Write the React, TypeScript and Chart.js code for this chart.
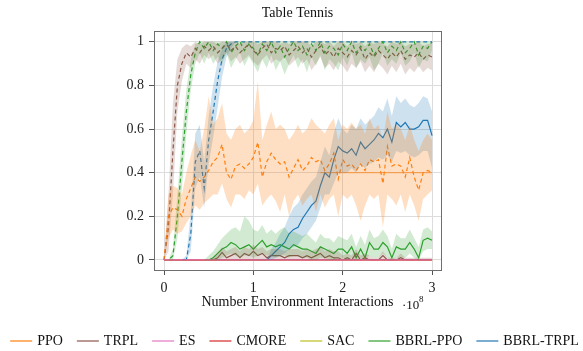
import React, { useEffect, useRef } from "react";
import { Chart, registerables } from "chart.js";

Chart.register(...registerables);

// x positions (units of 1e8 environment interactions)
const STEPS = [
  0, 0.05, 0.1, 0.15, 0.2, 0.25, 0.3, 0.35, 0.4, 0.45,
  0.5, 0.55, 0.6, 0.65, 0.7, 0.75, 0.8, 0.85, 0.9, 0.95,
  1, 1.05, 1.1, 1.15, 1.2, 1.25, 1.3, 1.35, 1.4, 1.45,
  1.5, 1.55, 1.6, 1.65, 1.7, 1.75, 1.8, 1.85, 1.9, 1.95,
  2, 2.05, 2.1, 2.15, 2.2, 2.25, 2.3, 2.35, 2.4, 2.45,
  2.5, 2.55, 2.6, 2.65, 2.7, 2.75, 2.8, 2.85, 2.9, 2.95,
  3,
];

const ZEROS = [
  0, 0, 0, 0, 0, 0, 0, 0, 0, 0,
  0, 0, 0, 0, 0, 0, 0, 0, 0, 0,
  0, 0, 0, 0, 0, 0, 0, 0, 0, 0,
  0, 0, 0, 0, 0, 0, 0, 0, 0, 0,
  0, 0, 0, 0, 0, 0, 0, 0, 0, 0,
  0, 0, 0, 0, 0, 0, 0, 0, 0, 0,
  0,
];

// PPO (dashed)
const PPO_DASH = [
  0, 0.2, 0.24, 0.23, 0.2, 0.28, 0.33, 0.38, 0.36, 0.38,
  0.41, 0.45, 0.47, 0.53, 0.4, 0.37, 0.43, 0.44, 0.42, 0.44,
  0.47, 0.54, 0.38, 0.45, 0.49, 0.46, 0.44, 0.45, 0.38, 0.42,
  0.46, 0.41, 0.43, 0.47, 0.45, 0.46, 0.41, 0.44, 0.49, 0.37,
  0.46, 0.43, 0.44, 0.41, 0.44, 0.41, 0.46, 0.45, 0.46, 0.35,
  0.52, 0.43, 0.44, 0.43, 0.38, 0.47, 0.38, 0.32, 0.4, 0.41,
  0.4,
];
const PPO_DASH_LO = [
  0, 0.1, 0.14, 0.12, 0.13, 0.17, 0.2, 0.25, 0.23, 0.26,
  0.28, 0.3, 0.3, 0.35, 0.28, 0.24, 0.3, 0.3, 0.28, 0.32,
  0.3, 0.35, 0.25, 0.28, 0.3, 0.27, 0.22, 0.3, 0.2, 0.27,
  0.3, 0.25, 0.28, 0.3, 0.22, 0.3, 0.24, 0.28, 0.3, 0.2,
  0.3, 0.28, 0.3, 0.25, 0.18, 0.25, 0.3, 0.28, 0.3, 0.15,
  0.3, 0.28, 0.25, 0.3, 0.22, 0.3, 0.25, 0.18, 0.28, 0.3,
  0.32,
];
const PPO_DASH_HI = [
  0, 0.3, 0.34, 0.33, 0.3, 0.4, 0.48, 0.55, 0.5, 0.6,
  0.75, 0.62, 0.65, 0.72, 0.58, 0.55, 0.6, 0.62, 0.58, 0.6,
  0.64, 0.82, 0.55, 0.62, 0.68, 0.6, 0.62, 0.6, 0.55, 0.58,
  0.62, 0.58, 0.6, 0.65, 0.62, 0.6, 0.58, 0.62, 0.65, 0.55,
  0.62, 0.6, 0.63, 0.6, 0.62, 0.58, 0.65, 0.6, 0.62, 0.55,
  0.68, 0.6, 0.62, 0.6, 0.55, 0.62, 0.55, 0.5, 0.55, 0.58,
  0.55,
];
// PPO (solid) plateau segment
const PPO_PLATEAU = [
  null, null, null, null, null, null, null, null, null, null,
  null, null, null, null, null, null, null, null, null, null,
  null, null, null, null, null, null, null, null, null, null,
  null, null, null, null, null, 0.4, 0.4, 0.4, 0.4, 0.4,
  0.4, 0.4, 0.4, 0.4, 0.4, 0.4, 0.4, 0.4, 0.4, 0.4,
  0.4, 0.4, 0.4, 0.4, 0.4, 0.4, 0.4, 0.4, 0.4, 0.4,
  0.4,
];

// TRPL (dashed)
const TRPL_DASH = [
  0, 0.15, 0.5, 0.8, 0.9, 0.95, 0.93, 0.97, 0.95, 0.98,
  0.96, 0.98, 0.95, 0.97, 0.99, 0.96, 0.98, 0.95, 0.97, 0.99,
  0.96, 0.94, 0.97, 0.99, 0.95, 0.97, 0.96, 0.98, 0.94, 0.96,
  0.98, 0.95, 0.97, 0.93, 0.96, 0.98, 0.94, 0.96, 0.93, 0.97,
  0.95, 0.93, 0.96, 0.94, 0.97, 0.92, 0.95, 0.93, 0.96, 0.94,
  0.92, 0.95, 0.93, 0.96, 0.92, 0.94, 0.93, 0.95, 0.92, 0.94,
  0.93,
];
const TRPL_DASH_LO = [
  0, 0.04, 0.3, 0.68, 0.82, 0.9, 0.88, 0.92, 0.9, 0.94,
  0.92, 0.94, 0.9, 0.92, 0.95, 0.91, 0.93, 0.9, 0.92, 0.94,
  0.91, 0.89, 0.92, 0.94, 0.9, 0.92, 0.91, 0.93, 0.89, 0.91,
  0.93, 0.9, 0.92, 0.87, 0.9, 0.93, 0.88, 0.9, 0.87, 0.91,
  0.89, 0.86, 0.9, 0.88, 0.91, 0.86, 0.89, 0.86, 0.9, 0.88,
  0.85, 0.89, 0.86, 0.9, 0.85, 0.88, 0.86, 0.89, 0.86, 0.88,
  0.87,
];
const TRPL_DASH_HI = [
  0, 0.3, 0.72, 0.92, 0.97, 0.99, 0.98, 1, 0.99, 1,
  1, 1, 0.99, 1, 1, 1, 1, 0.99, 1, 1,
  1, 0.99, 1, 1, 1, 1, 0.99, 1, 0.99, 1,
  1, 1, 1, 0.98, 1, 1, 0.99, 1, 0.98, 1,
  1, 0.98, 1, 0.99, 1, 0.98, 1, 0.99, 1, 0.99,
  0.98, 1, 0.99, 1, 0.98, 0.99, 0.99, 1, 0.98, 0.99,
  0.99,
];
// TRPL (solid)
const TRPL_SOLID = [
  0, 0, 0, 0, 0, 0, 0, 0, 0, 0,
  0, 0, 0.01, 0.035, 0.01, 0.02, 0.03, 0.01, 0.03, 0.02,
  0.04, 0.02, 0.03, 0.01, 0.02, 0.02, 0.02, 0.01, 0.02, 0.02,
  0.02, 0.01, 0.02, 0.01, 0.02, 0.03, 0.01, 0.02, 0.01, 0.01,
  0, 0.01, 0, 0.03, 0, 0.01, 0, 0, 0, 0.02,
  0, 0, 0, 0.01, 0, 0, 0, 0, 0, 0,
  0,
];
const TRPL_SOLID_HI = [
  0, 0, 0, 0, 0, 0, 0, 0, 0, 0,
  0, 0.01, 0.03, 0.06, 0.04, 0.05, 0.06, 0.04, 0.06, 0.05,
  0.07, 0.05, 0.06, 0.04, 0.05, 0.05, 0.05, 0.04, 0.05, 0.05,
  0.05, 0.04, 0.05, 0.04, 0.05, 0.06, 0.04, 0.05, 0.04, 0.04,
  0.02, 0.03, 0.02, 0.05, 0.02, 0.03, 0.02, 0.01, 0.01, 0.04,
  0.01, 0.01, 0.01, 0.03, 0.01, 0.01, 0.01, 0.01, 0.01, 0.01,
  0.01,
];

// BBRL-PPO (dashed)
const BPPO_DASH = [
  0, 0, 0.02, 0.2, 0.45, 0.68, 0.85, 0.95, 1, 0.97,
  1, 0.96, 0.99, 0.97, 1, 0.95, 0.98, 1, 0.96, 0.99,
  0.97, 0.94, 0.99, 0.96, 1, 0.95, 0.98, 0.93, 0.97, 1,
  0.96, 0.98, 0.94, 0.99, 0.96, 1, 0.95, 0.98, 0.97, 0.94,
  0.99, 0.96, 1, 0.95, 0.98, 0.96, 0.99, 0.94, 0.97, 1,
  0.95, 0.98, 0.96, 1, 0.95, 0.97, 1, 0.94, 0.98, 0.97,
  1,
];
const BPPO_DASH_LO = [
  0, 0, 0, 0.1, 0.33, 0.58, 0.78, 0.9, 0.95, 0.9,
  0.95, 0.9, 0.93, 0.9, 0.95, 0.88, 0.92, 0.95, 0.89, 0.93,
  0.9, 0.86, 0.92, 0.88, 0.94, 0.87, 0.91, 0.85, 0.9, 0.94,
  0.88, 0.92, 0.86, 0.93, 0.89, 0.94, 0.87, 0.92, 0.9, 0.87,
  0.93, 0.89, 0.95, 0.88, 0.92, 0.9, 0.93, 0.87, 0.9, 0.95,
  0.89, 0.92, 0.9, 0.95, 0.89, 0.91, 0.95, 0.88, 0.92, 0.91,
  0.96,
];
const BPPO_DASH_HI = [
  0, 0, 0.05, 0.3, 0.56, 0.78, 0.92, 0.99, 1, 1,
  1, 1, 1, 1, 1, 1, 1, 1, 1, 1,
  1, 1, 1, 1, 1, 1, 1, 1, 1, 1,
  1, 1, 1, 1, 1, 1, 1, 1, 1, 1,
  1, 1, 1, 1, 1, 1, 1, 1, 1, 1,
  1, 1, 1, 1, 1, 1, 1, 1, 1, 1,
  1,
];
// BBRL-PPO (solid)
const BPPO_SOLID = [
  0, 0, 0, 0, 0, 0, 0, 0, 0, 0,
  0, 0.01, 0.03, 0.05, 0.06, 0.08, 0.07, 0.05, 0.06, 0.07,
  0.05, 0.07, 0.09, 0.06, 0.07, 0.06, 0.07, 0.06, 0.05, 0.07,
  0.06, 0.05, 0.05, 0.04, 0.03, 0.06, 0.05, 0.04, 0.03, 0.05,
  0.05, 0.03, 0.06, 0.01, 0.05, 0.01, 0.08, 0.05, 0.05, 0.08,
  0.06, 0.01, 0.06, 0.05, 0.05, 0.08, 0.05, 0.01, 0.09, 0.1,
  0.09,
];
const BPPO_SOLID_LO = [
  0, 0, 0, 0, 0, 0, 0, 0, 0, 0,
  0, 0, 0, 0.01, 0.02, 0.03, 0.02, 0.01, 0.02, 0.02,
  0.01, 0.02, 0.03, 0.02, 0.02, 0.01, 0.02, 0.02, 0.01, 0.02,
  0.02, 0.01, 0.01, 0, 0, 0.01, 0.01, 0, 0, 0.01,
  0.01, 0, 0.01, 0, 0.01, 0, 0.02, 0.01, 0.01, 0.03,
  0.01, 0, 0.01, 0.01, 0.01, 0.03, 0.01, 0, 0.04, 0.05,
  0.05,
];
const BPPO_SOLID_HI = [
  0, 0, 0, 0, 0, 0, 0, 0, 0, 0,
  0.02, 0.04, 0.07, 0.1, 0.12, 0.14, 0.15, 0.13, 0.2, 0.18,
  0.14, 0.13, 0.16, 0.12, 0.14, 0.12, 0.14, 0.15, 0.12, 0.13,
  0.12, 0.11, 0.12, 0.1, 0.08, 0.12, 0.1, 0.1, 0.08, 0.11,
  0.1, 0.09, 0.12, 0.06, 0.11, 0.07, 0.14, 0.1, 0.11, 0.14,
  0.11, 0.05, 0.12, 0.1, 0.1, 0.14, 0.1, 0.06, 0.14, 0.15,
  0.13,
];

// BBRL-TRPL (dashed)
const BTRPL_DASH = [
  0, 0, 0, 0, 0, 0, 0.12, 0.45, 0.5, 0.33,
  0.55, 0.68, 0.82, 0.92, 0.97, 0.99, 1, 1, 1, 1,
  1, 1, 1, 1, 1, 1, 1, 1, 1, 1,
  1, 1, 1, 1, 1, 1, 1, 1, 1, 1,
  1, 1, 1, 1, 1, 1, 1, 1, 1, 1,
  1, 1, 1, 1, 1, 1, 1, 1, 1, 1,
  1,
];
const BTRPL_DASH_LO = [
  0, 0, 0, 0, 0, 0, 0.04, 0.33, 0.38, 0.24,
  0.44, 0.56, 0.7, 0.84, 0.93, 0.97, 1, 1, 1, 1,
  1, 1, 1, 1, 1, 1, 1, 1, 1, 1,
  1, 1, 1, 1, 1, 1, 1, 1, 1, 1,
  1, 1, 1, 1, 1, 1, 1, 1, 1, 1,
  1, 1, 1, 1, 1, 1, 1, 1, 1, 1,
  1,
];
const BTRPL_DASH_HI = [
  0, 0, 0, 0, 0, 0.02, 0.22, 0.58, 0.62, 0.45,
  0.66, 0.8, 0.91, 0.97, 1, 1, 1, 1, 1, 1,
  1, 1, 1, 1, 1, 1, 1, 1, 1, 1,
  1, 1, 1, 1, 1, 1, 1, 1, 1, 1,
  1, 1, 1, 1, 1, 1, 1, 1, 1, 1,
  1, 1, 1, 1, 1, 1, 1, 1, 1, 1,
  1,
];
// BBRL-TRPL (solid)
const BTRPL_SOLID = [
  0, 0, 0, 0, 0, 0, 0, 0, 0, 0,
  0, 0, 0, 0, 0, 0, 0, 0, 0, 0,
  0, 0, 0, 0, 0.02, 0.04, 0.06, 0.08, 0.12, 0.14,
  0.15, 0.19, 0.22, 0.25, 0.27, 0.34, 0.4, 0.38, 0.46, 0.52,
  0.5, 0.49, 0.51, 0.48, 0.54, 0.51, 0.53, 0.55, 0.58, 0.56,
  0.6, 0.54, 0.63, 0.61, 0.63, 0.6, 0.6, 0.61, 0.64, 0.64,
  0.57,
];
const BTRPL_SOLID_LO = [
  0, 0, 0, 0, 0, 0, 0, 0, 0, 0,
  0, 0, 0, 0, 0, 0, 0, 0, 0, 0,
  0, 0, 0, 0, 0, 0.01, 0.02, 0.03, 0.05, 0.06,
  0.07, 0.1, 0.12, 0.15, 0.18, 0.24, 0.3, 0.3, 0.35, 0.4,
  0.4, 0.4, 0.42, 0.4, 0.44, 0.42, 0.44, 0.45, 0.47, 0.46,
  0.48, 0.45, 0.5, 0.49, 0.5, 0.48, 0.47, 0.48, 0.5, 0.5,
  0.42,
];
const BTRPL_SOLID_HI = [
  0, 0, 0, 0, 0, 0, 0, 0, 0, 0,
  0, 0, 0, 0, 0, 0, 0, 0, 0, 0,
  0, 0, 0, 0, 0.05, 0.08, 0.12, 0.15, 0.2, 0.24,
  0.26, 0.3, 0.33, 0.36, 0.38, 0.45, 0.52, 0.48, 0.58, 0.65,
  0.6, 0.58, 0.62, 0.6, 0.65, 0.62, 0.64, 0.66, 0.7, 0.68,
  0.74, 0.66, 0.75, 0.72, 0.74, 0.71, 0.7, 0.72, 0.75, 0.74,
  0.68,
];

const X_TICKS = [0, 1, 2, 3];
const Y_TICKS = [0, 0.2, 0.4, 0.6, 0.8, 1];

const LEGEND_LABELS = ["PPO", "TRPL", "ES", "CMORE", "SAC", "BBRL-PPO", "BBRL-TRPL"];
const LEGEND_COLORS = ["#ff7f0e", "#8c564b", "#e377c2", "#d62728", "#bcbd22", "#2ca02c", "#1f77b4"];

const C_PPO = "#ff7f0e";
const C_TRPL = "#8c564b";
const C_ES = "#e377c2";
const C_CMORE = "#d62728";
const C_SAC = "#bcbd22";
const C_BPPO = "#2ca02c";
const C_BTRPL = "#1f77b4";

const SERIF = "'Liberation Serif', 'Times New Roman', serif";

function rgba(hex: string, a: number) {
  const n = parseInt(hex.slice(1), 16);
  return `rgba(${(n >> 16) & 255},${(n >> 8) & 255},${n & 255},${a})`;
}

function pts(ys: (number | null)[]) {
  return ys.map((y, i) => ({ x: STEPS[i], y }));
}

function line(label: string, ys: (number | null)[], color: string, dashed: boolean, width = 1.2) {
  return {
    label,
    data: pts(ys),
    borderColor: color,
    borderWidth: width,
    borderDash: dashed ? [4, 3] : [],
    pointRadius: 0,
    fill: false,
    tension: 0,
  };
}

function band(lo: number[], hi: number[], color: string, alpha = 0.22) {
  return [
    { label: "", data: pts(lo), borderColor: "transparent", borderWidth: 0, pointRadius: 0, fill: false },
    {
      label: "",
      data: pts(hi),
      borderColor: "transparent",
      borderWidth: 0,
      pointRadius: 0,
      fill: "-1",
      backgroundColor: rgba(color, alpha),
    },
  ];
}

const framePlugin = {
  id: "frame",
  afterDatasetsDraw(chart: any) {
    const { ctx, chartArea: a } = chart;
    ctx.save();
    ctx.strokeStyle = "#6e6e6e";
    ctx.lineWidth = 1;
    ctx.strokeRect(Math.round(a.left) + 0.5, Math.round(a.top) + 0.5, Math.round(a.right - a.left), Math.round(a.bottom - a.top));
    ctx.restore();
  },
};

const extrasPlugin = {
  id: "extras",
  afterDraw(chart: any) {
    const { ctx } = chart;
    ctx.save();
    // axis scale exponent
    ctx.fillStyle = "#111";
    ctx.textBaseline = "middle";
    ctx.textAlign = "left";
    ctx.font = `13px ${SERIF}`;
    ctx.fillText("·10", 402, 306);
    ctx.font = `9px ${SERIF}`;
    ctx.fillText("8", 419, 300);

    // legend
    ctx.font = `14px ${SERIF}`;
    const lineLen = 22;
    const gapText = 5;
    const gapItem = 14;
    const widths = LEGEND_LABELS.map((l) => ctx.measureText(l).width);
    const total = widths.reduce((s, w) => s + lineLen + gapText + w, 0) + gapItem * (LEGEND_LABELS.length - 1);
    let x = 294.5 - total / 2;
    const y = 341;
    LEGEND_LABELS.forEach((label, i) => {
      ctx.strokeStyle = rgba(LEGEND_COLORS[i], 0.75);
      ctx.lineWidth = 1.6;
      ctx.beginPath();
      ctx.moveTo(x, y);
      ctx.lineTo(x + lineLen, y);
      ctx.stroke();
      ctx.fillStyle = "#111";
      ctx.fillText(label, x + lineLen + gapText, y);
      x += lineLen + gapText + widths[i] + gapItem;
    });
    ctx.restore();
  },
};

export default function App() {
  const ref = useRef<HTMLCanvasElement>(null);

  useEffect(() => {
    const datasets: any[] = [
      ...band(PPO_DASH_LO, PPO_DASH_HI, C_PPO, 0.25),
      ...band(TRPL_DASH_LO, TRPL_DASH_HI, C_TRPL),
      ...band(ZEROS, TRPL_SOLID_HI, C_TRPL),
      ...band(BPPO_DASH_LO, BPPO_DASH_HI, C_BPPO),
      ...band(BPPO_SOLID_LO, BPPO_SOLID_HI, C_BPPO),
      ...band(BTRPL_DASH_LO, BTRPL_DASH_HI, C_BTRPL),
      ...band(BTRPL_SOLID_LO, BTRPL_SOLID_HI, C_BTRPL),
      line("ES", ZEROS, C_ES, false),
      line("CMORE", ZEROS, C_CMORE, false),
      line("SAC", ZEROS, C_SAC, false),
      line("PPO", ZEROS, C_PPO, false),
      line("PPO plateau", PPO_PLATEAU, rgba(C_PPO, 0.7), false, 1),
      line("PPO dashed", PPO_DASH, C_PPO, true),
      line("TRPL", TRPL_SOLID, C_TRPL, false),
      line("BBRL-PPO", BPPO_SOLID, C_BPPO, false),
      line("TRPL dashed", TRPL_DASH, C_TRPL, true),
      line("BBRL-PPO dashed", BPPO_DASH, C_BPPO, true),
      line("BBRL-TRPL dashed", BTRPL_DASH, C_BTRPL, true),
      line("BBRL-TRPL", BTRPL_SOLID, C_BTRPL, false),
    ];

    const chart = new Chart(ref.current as HTMLCanvasElement, {
      type: "line",
      data: { datasets },
      options: {
        animation: false,
        responsive: false,
        devicePixelRatio: 1,
        layout: { padding: { left: 114, right: 142, top: 0, bottom: 40 } },
        plugins: {
          legend: { display: false },
          tooltip: { enabled: false },
          title: {
            display: true,
            fullSize: false,
            text: "Table Tennis",
            color: "#111",
            font: { family: SERIF, size: 14, weight: "normal" },
            padding: { top: 5, bottom: 9 },
          },
        },
        scales: {
          x: {
            type: "linear",
            min: -0.112,
            max: 3.1,
            afterBuildTicks: (s: any) => {
              s.ticks = X_TICKS.map((v) => ({ value: v }));
            },
            afterFit: (s: any) => {
              s.height = 41;
            },
            ticks: {
              callback: (v: any) => String(v),
              color: "#222",
              font: { family: SERIF, size: 14 },
              padding: 5,
              maxRotation: 0,
            },
            grid: { color: "#dcdcdc", tickColor: "#555", tickLength: 5, lineWidth: 1 },
            border: { display: false },
            title: {
              display: true,
              text: "Number Environment Interactions",
              color: "#111",
              font: { family: SERIF, size: 14 },
              padding: { top: 0, bottom: 0 },
            },
          },
          y: {
            type: "linear",
            min: -0.046,
            max: 1.0505,
            afterBuildTicks: (s: any) => {
              s.ticks = Y_TICKS.map((v) => ({ value: v }));
            },
            afterFit: (s: any) => {
              s.width = 40;
            },
            ticks: {
              callback: (v: any) => String(v),
              color: "#222",
              font: { family: SERIF, size: 14 },
              padding: 5,
            },
            grid: { color: "#dcdcdc", tickColor: "#555", tickLength: 5, lineWidth: 1 },
            border: { display: false },
          },
        },
      },
      plugins: [framePlugin, extrasPlugin],
    } as any);

    return () => chart.destroy();
  }, []);

  return (
    <div style={{ position: "fixed", left: 0, top: 0, width: 583, height: 351, background: "#fff" }}>
      <canvas ref={ref} width={583} height={351} style={{ display: "block", width: 583, height: 351 }} />
    </div>
  );
}
